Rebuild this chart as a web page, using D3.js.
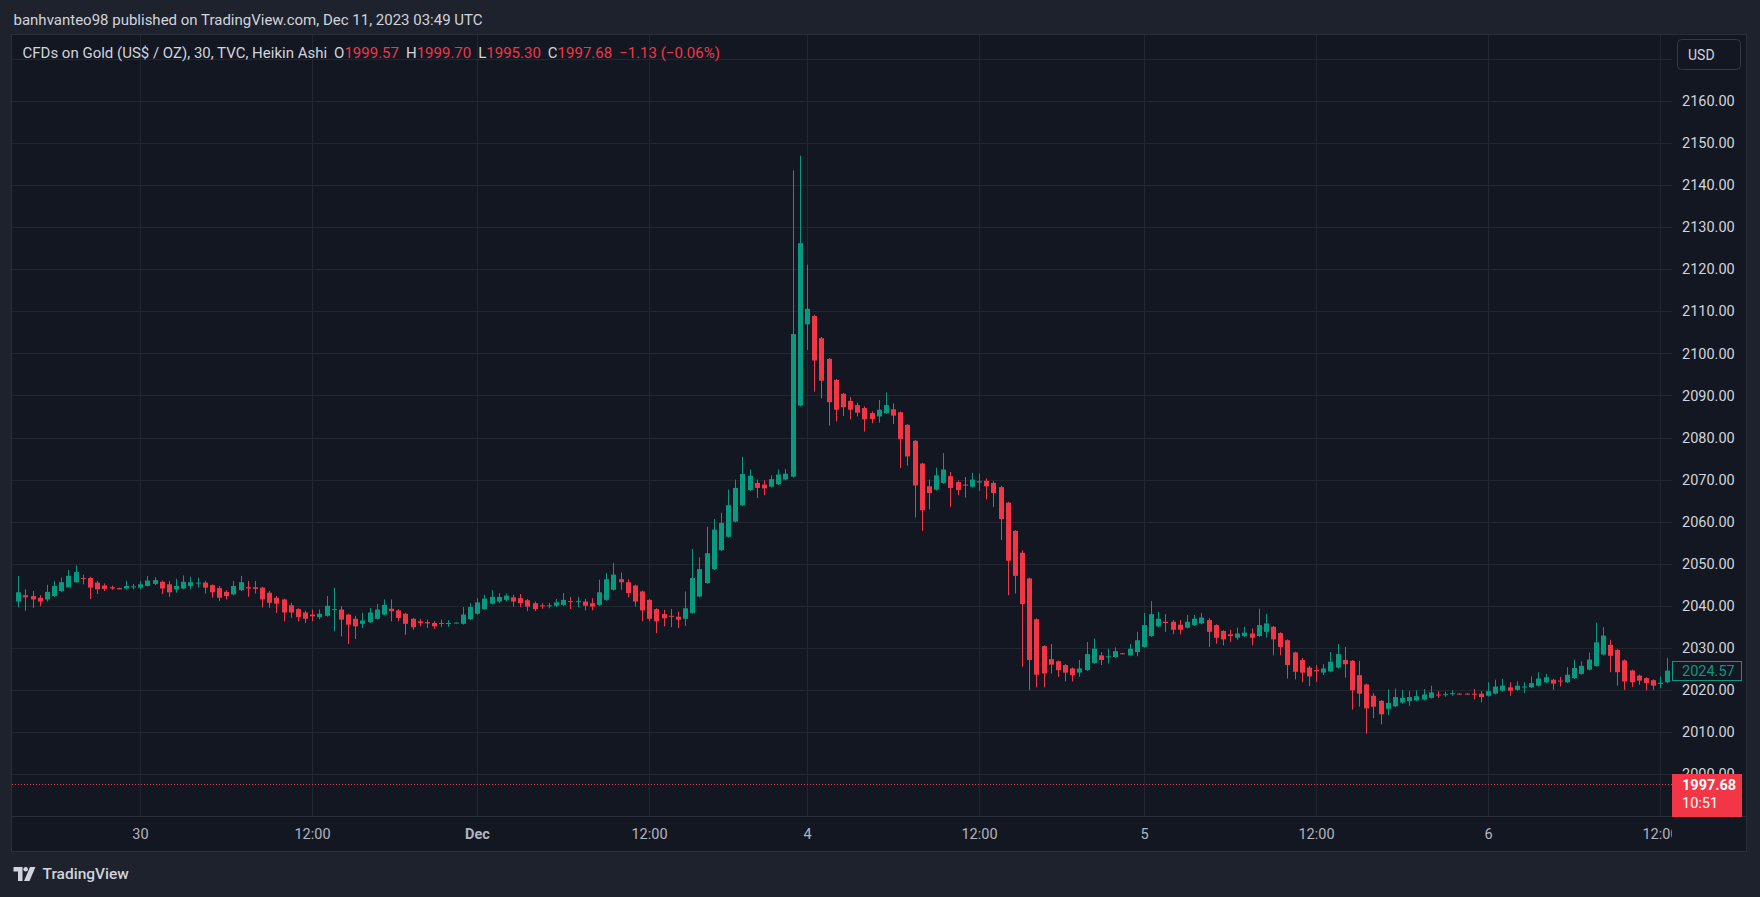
<!DOCTYPE html>
<html>
<head>
<meta charset="utf-8">
<script src="https://cdn.jsdelivr.net/npm/d3@7"></script>
<style>
  html, body { margin: 0; padding: 0; background: #1e222d; }
  svg { display: block; font-family: Roboto, "Noto Sans", sans-serif; }
</style>
</head>
<body>
<div id="chart"></div>
<script>
// Heikin Ashi candles, 30 min (index 0 = first visible bar)
const opens = [
  2041.0, 2042.5, 2042.3, 2041.9, 2041.5, 2042.3, 2043.5, 2044.4, 2045.6, 2046.6,
  2046.6, 2045.5, 2044.8, 2044.4, 2044.2, 2044.1, 2044.4, 2044.3, 2044.7, 2045.2,
  2045.7, 2045.1, 2043.9, 2044.1, 2044.7, 2045.3, 2045.5, 2044.9, 2044.2, 2043.3,
  2042.7, 2043.7, 2044.4, 2044.4, 2044.3, 2043.1, 2041.9, 2041.5, 2040.1, 2039.2,
  2038.4, 2037.9, 2037.3, 2037.6, 2039.0, 2039.1, 2037.9, 2036.9, 2035.7, 2036.1,
  2036.9, 2037.9, 2039.3, 2038.9, 2038.1, 2036.9, 2036.3, 2036.1, 2035.9, 2035.8,
  2035.8, 2035.9, 2035.7, 2036.8, 2038.1, 2039.2, 2040.5, 2041.0, 2041.4, 2042.0,
  2041.8, 2041.3, 2040.6, 2040.1, 2039.9, 2040.0, 2040.2, 2041.1, 2040.9, 2041.0,
  2040.6, 2040.2, 2041.4, 2043.8, 2046.3, 2045.6, 2044.8, 2043.4, 2041.4, 2039.2,
  2038.0, 2037.6, 2037.4, 2036.9, 2038.3, 2042.2, 2045.4, 2048.7, 2053.2, 2056.4,
  2060.0, 2063.9, 2067.5, 2069.2, 2068.8, 2068.3, 2068.9, 2070.0, 2070.7, 2087.6,
  2106.9, 2108.9, 2103.6, 2098.7, 2093.7, 2090.4, 2088.7, 2087.7, 2087.0, 2085.8,
  2085.0, 2085.8, 2086.7, 2086.0, 2083.0, 2079.2, 2073.8, 2068.4, 2067.6, 2069.2,
  2070.8, 2069.4, 2068.8, 2068.3, 2069.3, 2069.7, 2069.2, 2068.2, 2064.5, 2057.8,
  2052.6, 2046.5, 2036.8, 2030.4, 2027.3, 2026.8, 2025.9, 2025.1, 2024.1, 2024.7,
  2026.4, 2028.2, 2027.8, 2027.8, 2028.7, 2028.2, 2029.0, 2030.2, 2032.8, 2035.1,
  2036.2, 2036.2, 2035.5, 2034.8, 2035.4, 2035.8, 2036.6, 2035.4, 2034.0, 2033.2,
  2032.4, 2032.8, 2033.4, 2032.8, 2033.8, 2035.0, 2033.5, 2031.8, 2028.9, 2027.1,
  2025.3, 2024.7, 2024.1, 2024.4, 2025.3, 2027.1, 2026.9, 2023.5, 2021.3, 2018.6,
  2017.4, 2015.5, 2016.1, 2017.0, 2017.3, 2017.5, 2017.7, 2018.1, 2018.9, 2018.8,
  2019.1, 2019.1, 2019.1, 2019.1, 2019.1, 2018.6, 2019.1, 2019.8, 2020.6, 2020.0,
  2020.6, 2020.6, 2021.0, 2021.8, 2022.4, 2022.2, 2021.8, 2022.8, 2023.8, 2024.8,
  2025.7, 2028.4, 2030.7, 2029.5, 2027.0, 2024.6, 2023.4, 2022.8, 2022.3, 2021.4,
  2021.8
];
const highs = [
  2047.1, 2043.9, 2043.5, 2042.5, 2045.0, 2045.9, 2046.7, 2048.5, 2049.6, 2047.4,
  2046.9, 2045.9, 2045.3, 2044.8, 2044.3, 2045.9, 2045.2, 2045.9, 2047.1, 2046.8,
  2046.0, 2045.9, 2046.4, 2047.2, 2046.9, 2046.7, 2045.9, 2045.1, 2044.7, 2043.7,
  2045.9, 2047.1, 2045.9, 2045.9, 2044.5, 2043.5, 2042.3, 2041.7, 2040.7, 2039.4,
  2038.8, 2039.1, 2039.1, 2042.3, 2044.3, 2039.9, 2038.1, 2037.6, 2038.3, 2039.5,
  2040.4, 2041.5, 2041.5, 2039.2, 2038.3, 2037.1, 2036.9, 2036.7, 2036.3, 2036.7,
  2036.6, 2036.0, 2039.7, 2040.6, 2041.8, 2042.6, 2043.7, 2043.0, 2042.9, 2042.6,
  2042.8, 2041.6, 2041.0, 2040.6, 2040.7, 2041.6, 2043.0, 2042.1, 2042.1, 2041.6,
  2041.8, 2046.2, 2047.8, 2050.2, 2047.9, 2046.3, 2045.0, 2043.6, 2041.6, 2039.4,
  2039.0, 2039.2, 2038.6, 2043.4, 2053.5, 2051.5, 2058.8, 2060.6, 2062.1, 2067.6,
  2070.0, 2075.4, 2072.4, 2070.0, 2069.8, 2071.0, 2072.4, 2072.5, 2143.5, 2147.0,
  2121.1, 2109.2, 2103.9, 2098.9, 2093.9, 2090.6, 2089.6, 2088.3, 2087.4, 2086.2,
  2088.9, 2090.7, 2088.1, 2086.2, 2083.2, 2079.4, 2074.0, 2070.0, 2072.8, 2076.3,
  2071.8, 2069.8, 2070.6, 2071.6, 2071.4, 2070.3, 2069.6, 2068.5, 2064.7, 2058.0,
  2053.2, 2046.7, 2037.0, 2030.6, 2030.9, 2027.0, 2026.1, 2025.3, 2027.1, 2031.4,
  2032.2, 2029.0, 2029.8, 2030.1, 2028.8, 2030.9, 2033.8, 2038.3, 2041.1, 2038.5,
  2038.0, 2036.6, 2036.6, 2037.8, 2037.8, 2038.3, 2037.0, 2035.6, 2034.2, 2034.3,
  2034.8, 2035.0, 2034.6, 2039.3, 2038.1, 2035.2, 2033.7, 2032.0, 2029.1, 2027.6,
  2025.7, 2025.9, 2026.1, 2029.0, 2030.9, 2030.2, 2027.1, 2026.9, 2021.5, 2019.2,
  2017.6, 2020.1, 2020.3, 2020.0, 2019.7, 2019.9, 2020.2, 2021.0, 2019.7, 2019.6,
  2019.9, 2019.2, 2019.2, 2020.2, 2019.7, 2021.8, 2022.4, 2022.6, 2021.8, 2022.0,
  2021.8, 2023.2, 2024.2, 2023.8, 2022.6, 2023.1, 2025.4, 2027.2, 2026.8, 2028.9,
  2036.0, 2034.9, 2031.9, 2029.7, 2027.2, 2024.8, 2023.6, 2023.0, 2022.5, 2023.2,
  2027.6
];
const lows = [
  2039.6, 2038.8, 2039.5, 2039.9, 2041.0, 2042.1, 2043.2, 2044.3, 2045.5, 2045.1,
  2041.6, 2042.8, 2043.5, 2043.8, 2043.9, 2043.9, 2043.9, 2043.9, 2044.6, 2044.9,
  2042.8, 2042.1, 2043.1, 2043.9, 2043.9, 2044.3, 2042.9, 2041.9, 2041.1, 2041.5,
  2042.5, 2043.5, 2042.1, 2042.9, 2039.6, 2039.5, 2038.3, 2036.3, 2037.1, 2036.3,
  2035.9, 2036.3, 2036.8, 2037.4, 2033.9, 2032.7, 2030.9, 2032.1, 2034.7, 2035.9,
  2036.7, 2037.7, 2036.3, 2036.3, 2033.1, 2034.3, 2035.1, 2034.7, 2034.5, 2034.9,
  2035.0, 2035.8, 2035.5, 2036.6, 2037.9, 2039.0, 2040.3, 2040.6, 2041.0, 2039.8,
  2039.7, 2038.7, 2038.7, 2039.3, 2039.4, 2039.7, 2040.0, 2039.2, 2039.7, 2038.9,
  2038.9, 2040.0, 2041.2, 2043.6, 2043.8, 2042.0, 2039.8, 2036.3, 2036.3, 2033.5,
  2035.1, 2034.9, 2034.7, 2035.2, 2038.1, 2042.0, 2045.2, 2048.5, 2053.0, 2056.2,
  2059.8, 2063.7, 2067.3, 2065.6, 2066.3, 2068.1, 2068.7, 2069.8, 2070.5, 2087.4,
  2100.8, 2090.9, 2089.3, 2082.8, 2083.8, 2085.1, 2084.3, 2085.0, 2081.4, 2083.4,
  2083.5, 2085.6, 2083.2, 2072.7, 2073.3, 2061.0, 2057.8, 2062.9, 2067.4, 2069.0,
  2063.5, 2066.3, 2065.7, 2068.1, 2067.3, 2065.3, 2063.5, 2055.6, 2042.5, 2042.9,
  2025.5, 2019.9, 2020.6, 2020.6, 2023.9, 2023.1, 2022.0, 2022.0, 2023.1, 2024.5,
  2026.2, 2025.9, 2026.3, 2027.6, 2028.5, 2028.0, 2028.0, 2030.0, 2032.6, 2034.9,
  2033.8, 2033.2, 2033.2, 2034.6, 2035.2, 2035.6, 2030.2, 2031.0, 2030.6, 2031.4,
  2031.9, 2032.6, 2030.6, 2032.6, 2032.4, 2028.2, 2028.2, 2022.7, 2022.5, 2021.8,
  2020.9, 2021.9, 2023.5, 2024.2, 2025.1, 2022.9, 2015.3, 2016.0, 2009.6, 2013.3,
  2011.8, 2014.0, 2015.9, 2016.7, 2016.2, 2017.3, 2017.5, 2017.9, 2018.1, 2018.4,
  2018.6, 2019.0, 2019.0, 2017.7, 2017.0, 2018.4, 2018.9, 2019.6, 2018.6, 2019.8,
  2019.3, 2020.4, 2020.8, 2021.6, 2020.0, 2020.8, 2021.6, 2022.6, 2023.6, 2024.6,
  2025.5, 2028.2, 2024.2, 2021.0, 2020.0, 2020.7, 2021.2, 2019.9, 2020.0, 2020.4,
  2021.6
];
const closes = [
  2043.2, 2042.0, 2041.5, 2041.0, 2043.3, 2044.7, 2045.6, 2047.1, 2048.0, 2046.4,
  2044.3, 2043.9, 2044.0, 2044.1, 2043.9, 2044.7, 2044.6, 2045.1, 2046.0, 2046.1,
  2044.1, 2043.2, 2044.7, 2045.7, 2045.6, 2045.5, 2044.3, 2043.2, 2041.9, 2042.3,
  2044.7, 2045.6, 2044.1, 2044.0, 2041.5, 2040.7, 2040.5, 2038.4, 2038.4, 2037.3,
  2036.9, 2037.5, 2038.1, 2040.0, 2039.2, 2036.7, 2035.5, 2035.1, 2036.5, 2038.4,
  2039.1, 2040.2, 2038.7, 2037.1, 2035.7, 2034.9, 2035.9, 2035.8, 2035.1, 2035.9,
  2035.9, 2036.0, 2037.9, 2039.7, 2040.8, 2041.7, 2042.1, 2042.1, 2042.4, 2041.0,
  2040.6, 2039.8, 2039.2, 2039.9, 2040.1, 2040.8, 2041.4, 2040.9, 2041.1, 2040.0,
  2039.8, 2043.2, 2046.3, 2047.4, 2045.6, 2043.0, 2041.0, 2038.9, 2036.9, 2036.3,
  2037.0, 2037.4, 2036.7, 2039.4, 2046.6, 2048.7, 2052.5, 2058.1, 2059.7, 2063.9,
  2068.0, 2071.3, 2070.9, 2068.0, 2067.9, 2070.1, 2071.2, 2071.4, 2104.6, 2126.2,
  2110.6, 2098.3, 2093.5, 2088.4, 2086.6, 2087.2, 2086.6, 2085.9, 2084.3, 2084.4,
  2086.6, 2087.7, 2085.2, 2079.6, 2075.5, 2068.6, 2062.7, 2066.8, 2071.0, 2072.4,
  2068.0, 2067.5, 2068.6, 2070.0, 2069.6, 2068.4, 2066.8, 2060.6, 2050.7, 2047.1,
  2040.4, 2027.1, 2023.6, 2023.9, 2026.0, 2024.7, 2024.1, 2023.5, 2025.1, 2028.5,
  2029.8, 2027.1, 2028.0, 2029.2, 2028.6, 2029.8, 2031.8, 2035.4, 2038.0, 2036.9,
  2035.9, 2034.3, 2034.3, 2036.2, 2036.9, 2037.2, 2033.8, 2032.4, 2032.0, 2032.8,
  2033.4, 2033.6, 2032.4, 2035.4, 2035.8, 2032.0, 2030.2, 2025.9, 2024.3, 2024.1,
  2023.2, 2024.4, 2025.1, 2026.7, 2028.5, 2026.1, 2019.9, 2019.1, 2015.6, 2016.0,
  2014.2, 2016.9, 2018.3, 2018.1, 2018.3, 2018.5, 2018.9, 2019.4, 2018.7, 2019.0,
  2019.2, 2019.0, 2019.0, 2018.9, 2018.3, 2019.7, 2020.8, 2021.0, 2019.8, 2021.0,
  2020.8, 2021.6, 2022.7, 2023.0, 2021.5, 2022.0, 2023.6, 2025.2, 2025.7, 2027.2,
  2031.3, 2032.9, 2028.1, 2024.2, 2022.0, 2021.8, 2022.2, 2021.6, 2021.0, 2021.7,
  2024.57
];

// axis ticks
const priceTicks = [2000, 2010, 2020, 2030, 2040, 2050, 2060, 2070, 2080, 2090, 2100, 2110, 2120, 2130, 2140, 2150, 2160];
const priceGrid = priceTicks.concat([2170]);
const timeTickIndex = [17, 41, 64, 88, 110, 134, 157, 181, 205, 229];
const timeTickLabels = ["30", "12:00", "Dec", "12:00", "4", "12:00", "5", "12:00", "6", "12:00"];

// header / legend
const headerText = "banhvanteo98 published on TradingView.com, Dec 11, 2023 03:49 UTC";
const symbolText = "CFDs on Gold (US$ / OZ), 30, TVC, Heikin Ashi";
const ohlcKeys = ["O", "H", "L", "C"];
const ohlcValues = ["1999.57", "1999.70", "1995.30", "1997.68"];
const changeText = "\u22121.13 (\u22120.06%)";
const lastPrice = 2024.57;
const markPrice = 1997.68;
const countdown = "10:51";

const W = 1760, H = 897;
const GREEN = "#089981", RED = "#f23645";
const TEXT = "#d1d4dc", AXIS_TEXT = "#b2b5be", GRID = "#222631", BORDER = "#2a2e39";

// panel geometry
const panelLeft = 11, panelTop = 34, panelRight = 1747, panelBottom = 852;
const plotRight = 1672, timeTop = 816;

const svg = d3.select("#chart").append("svg")
  .attr("width", W)
  .attr("height", H);

svg.append("rect").attr("width", W).attr("height", H).attr("fill", "#1e222d");
svg.append("rect")
  .attr("x", panelLeft + 0.5).attr("y", panelTop + 0.5)
  .attr("width", panelRight - panelLeft - 1).attr("height", panelBottom - panelTop - 1)
  .attr("fill", "#131722").attr("stroke", BORDER);

const x = d3.scaleLinear().domain([0, 230]).range([18.3, 18.3 + 7.17 * 230]);
const y = d3.scaleLinear().domain([2000, 2160]).range([774, 101]);

// grid
const grid = svg.append("g");
grid.selectAll(".hg").data(priceGrid).enter().append("line")
  .attr("x1", panelLeft + 1).attr("x2", plotRight)
  .attr("y1", d => Math.round(y(d)) + 0.5).attr("y2", d => Math.round(y(d)) + 0.5)
  .attr("stroke", GRID);
grid.selectAll(".vg").data(timeTickIndex).enter().append("line")
  .attr("x1", d => Math.round(x(d)) + 0.5).attr("x2", d => Math.round(x(d)) + 0.5)
  .attr("y1", panelTop + 1).attr("y2", timeTop)
  .attr("stroke", GRID);

// time axis separator
svg.append("line")
  .attr("x1", panelLeft + 1).attr("x2", panelRight - 1)
  .attr("y1", timeTop + 0.5).attr("y2", timeTop + 0.5)
  .attr("stroke", BORDER);

// mark price dotted line
svg.append("line")
  .attr("x1", panelLeft + 1).attr("x2", plotRight)
  .attr("y1", Math.round(y(markPrice)) + 0.5).attr("y2", Math.round(y(markPrice)) + 0.5)
  .attr("stroke", RED).attr("stroke-dasharray", "1,2");

// candles
const idx = d3.range(opens.length);
const candles = svg.append("g");
candles.selectAll(".wick").data(idx).enter().append("line")
  .attr("x1", i => Math.round(x(i)) + 0.5).attr("x2", i => Math.round(x(i)) + 0.5)
  .attr("y1", i => y(highs[i])).attr("y2", i => y(lows[i]))
  .attr("stroke", i => closes[i] >= opens[i] ? GREEN : RED);
candles.selectAll(".body").data(idx).enter().append("rect")
  .attr("x", i => Math.round(x(i)) - 2)
  .attr("width", 5)
  .attr("y", i => y(Math.max(opens[i], closes[i])))
  .attr("height", i => Math.max(1, Math.abs(y(opens[i]) - y(closes[i]))))
  .attr("fill", i => closes[i] >= opens[i] ? GREEN : RED);

// price axis
const yAxis = svg.append("g")
  .attr("transform", `translate(${plotRight},0)`)
  .call(d3.axisRight(y).tickValues(priceTicks).tickFormat(d3.format(".2f")).tickSize(0).tickPadding(10));
yAxis.select(".domain").remove();
yAxis.selectAll("text").attr("fill", TEXT).style("font-size", "14.5px").style("font-family", "Roboto");

// time axis, clipped at the price scale
svg.append("clipPath").attr("id", "timeClip")
  .append("rect").attr("x", panelLeft + 1).attr("y", timeTop).attr("width", plotRight - panelLeft - 1).attr("height", panelBottom - timeTop);
const xAxis = svg.append("g")
  .attr("clip-path", "url(#timeClip)")
  .append("g")
  .attr("transform", `translate(0,${timeTop})`)
  .call(d3.axisBottom(x).tickValues(timeTickIndex).tickFormat((d, i) => timeTickLabels[i]).tickSize(0).tickPadding(13));
xAxis.select(".domain").remove();
xAxis.selectAll(".tick").attr("transform", d => `translate(${Math.round(x(d)) + 0.5},0)`);
xAxis.selectAll("text")
  .attr("fill", AXIS_TEXT)
  .style("font-size", "14.5px").style("font-family", "Roboto")
  .style("font-weight", (d, i) => timeTickLabels[i] === "Dec" ? "bold" : null);

// last price label
const lastY = Math.round(y(lastPrice));
svg.append("rect")
  .attr("x", plotRight + 0.5).attr("y", lastY - 9.5)
  .attr("width", 69).attr("height", 19)
  .attr("fill", "#131722").attr("stroke", GREEN);
svg.append("text")
  .attr("x", plotRight + 10).attr("y", lastY).attr("dy", "0.35em")
  .attr("fill", GREEN).style("font-size", "14.5px")
  .text(lastPrice.toFixed(2));

// mark price label with countdown
const markY = y(markPrice);
svg.append("rect")
  .attr("x", plotRight).attr("y", Math.round(markY) - 10)
  .attr("width", 70).attr("height", 43)
  .attr("fill", RED);
svg.append("text")
  .attr("x", plotRight + 10).attr("y", markY + 1).attr("dy", "0.35em")
  .attr("fill", "#ffffff").style("font-size", "14.5px").style("font-weight", "bold")
  .text(markPrice.toFixed(2));
svg.append("text")
  .attr("x", plotRight + 10).attr("y", markY + 19).attr("dy", "0.35em")
  .attr("fill", "#ffffff").style("font-size", "14.5px")
  .text(countdown);

// USD button
svg.append("rect")
  .attr("x", 1677.5).attr("y", 39.5).attr("width", 63).attr("height", 30).attr("rx", 4)
  .attr("fill", "#131722").attr("stroke", "#363a45");
svg.append("text")
  .attr("x", 1688).attr("y", 55).attr("dy", "0.35em")
  .attr("fill", TEXT).style("font-size", "14px")
  .text("USD");

// header
svg.append("text")
  .attr("x", 13.5).attr("y", 20).attr("dy", "0.35em")
  .attr("fill", TEXT).style("font-size", "15px")
  .text(headerText);

// legend
const legend = svg.append("text")
  .attr("x", 22.5).attr("y", 53).attr("dy", "0.35em")
  .style("font-size", "15px");
legend.append("tspan").attr("fill", TEXT).text(symbolText);
ohlcKeys.forEach((k, i) => {
  legend.append("tspan").attr("fill", TEXT).attr("dx", 7).text(k);
  legend.append("tspan").attr("fill", RED).text(ohlcValues[i]);
});
legend.append("tspan").attr("fill", RED).attr("dx", 7).text(changeText);

// footer logo
const logo = svg.append("g").attr("transform", "translate(13.5,867)").attr("fill", TEXT);
logo.append("path").attr("d", "M0,0 H9 V14 H4.5 V4.5 H0 Z");
logo.append("circle").attr("cx", 12.2).attr("cy", 2.3).attr("r", 2.3);
logo.append("path").attr("d", "M16.5,0 H22 L16,14 H10.5 Z");
svg.append("text")
  .attr("x", 42.5).attr("y", 874).attr("dy", "0.35em")
  .attr("fill", TEXT).style("font-size", "15.5px").style("font-weight", 500)
  .text("TradingView");
</script>
</body>
</html>
